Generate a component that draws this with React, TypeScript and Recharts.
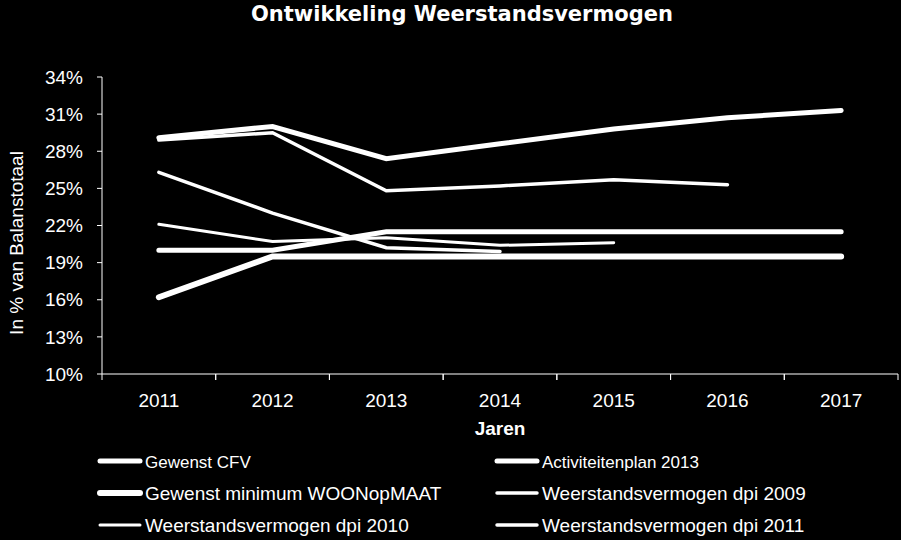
import { LineChart, Line, XAxis, YAxis } from "recharts";

const years = ["2011", "2012", "2013", "2014", "2015", "2016", "2017"];
const gewenstCFV = [20.0, 20.0, 21.5, 21.5, 21.5, 21.5, 21.5];
const activiteitenplan2013 = [29.1, 30.0, 27.4, 28.6, 29.8, 30.7, 31.3];
const gewenstMinimum = [16.2, 19.5, 19.5, 19.5, 19.5, 19.5, 19.5];
const dpi2009 = [26.3, 23.0, 20.2, 19.9];
const dpi2010 = [22.1, 20.7, 21.0, 20.4, 20.6];
const dpi2011 = [28.9, 29.5, 24.8, 25.2, 25.7, 25.3];
const yTicks = [10, 13, 16, 19, 22, 25, 28, 31, 34];

const series = [
  { key: "cfv", name: "Gewenst CFV", values: gewenstCFV, width: 5 },
  { key: "plan", name: "Activiteitenplan 2013", values: activiteitenplan2013, width: 5 },
  { key: "min", name: "Gewenst minimum WOONopMAAT", values: gewenstMinimum, width: 6 },
  { key: "d09", name: "Weerstandsvermogen dpi 2009", values: dpi2009, width: 3.5 },
  { key: "d10", name: "Weerstandsvermogen dpi 2010", values: dpi2010, width: 3 },
  { key: "d11", name: "Weerstandsvermogen dpi 2011", values: dpi2011, width: 3.5 },
];

const data = years.map((year, i) => {
  const row: { [k: string]: string | number | null } = { year };
  series.forEach(s => { row[s.key] = i < s.values.length ? s.values[i] : null; });
  return row;
});

const W = 901, H = 540;
const PLOT_LEFT = 102, PLOT_RIGHT = 898, PLOT_TOP = 77, PLOT_BOTTOM = 374;
const BAND = (PLOT_RIGHT - PLOT_LEFT) / years.length;
const FONT = "'Liberation Sans', Arial, sans-serif";

function XTick(props: any) {
  const { x, y, payload } = props;
  const axisY = y - 8;
  return (
    <g>
      <line x1={x - BAND / 2} x2={x - BAND / 2} y1={axisY} y2={axisY + 6} stroke="#fff" />
      <line x1={x + BAND / 2} x2={x + BAND / 2} y1={axisY} y2={axisY + 6} stroke="#fff" />
      <text x={x} y={axisY + 33} textAnchor="middle" fill="#fff" fontSize={19} fontFamily={FONT}>
        {payload.value}
      </text>
    </g>
  );
}

export default function App() {
  return (
    <div style={{ position: "fixed", left: 0, top: 0, width: W, height: H, background: "#000" }}>
      <LineChart
        width={W} height={H} data={data}
        margin={{ top: PLOT_TOP, right: W - PLOT_RIGHT, bottom: H - PLOT_BOTTOM - 30, left: 0 }}
      >
        <XAxis
          dataKey="year" height={30} padding={{ left: BAND / 2, right: BAND / 2 }}
          stroke="#fff" tickLine={false} tick={<XTick />} interval={0}
        />
        <YAxis
          width={PLOT_LEFT} domain={[10, 34]} ticks={yTicks} interval={0}
          stroke="#fff" tickSize={5} tickMargin={14}
          tickFormatter={(v: number) => `${v}%`}
          tick={{ fill: "#fff", fontSize: 19, fontFamily: FONT }}
        />
        {series.map(s => (
          <Line
            key={s.key} dataKey={s.key} name={s.name} stroke="#fff" strokeWidth={s.width}
            strokeLinecap="round" dot={false} isAnimationActive={false}
          />
        ))}
      </LineChart>
      <svg width={W} height={H} style={{ position: "absolute", left: 0, top: 0, pointerEvents: "none" }}>
        <text x={462} y={21} textAnchor="middle" fill="#fff" fontSize={21} fontWeight="bold"
          fontFamily="'DejaVu Sans', Verdana, sans-serif">
          Ontwikkeling Weerstandsvermogen
        </text>
        <text x={23} y={243} transform="rotate(-90 23 243)" textAnchor="middle" fill="#fff"
          fontSize={19} fontFamily={FONT}>
          In % van Balanstotaal
        </text>
        <text x={500} y={435} textAnchor="middle" fill="#fff" fontSize={19} fontWeight="bold" fontFamily={FONT}>
          Jaren
        </text>
        {series.map((s, i) => {
          const col = i % 2, row = Math.floor(i / 2);
          const lx = col === 0 ? 100 : 497;
          const ly = 461 + row * 32;
          return (
            <g key={s.key}>
              <line x1={lx} x2={lx + 40} y1={ly} y2={ly} stroke="#fff" strokeWidth={s.width} strokeLinecap="round" />
              <text x={lx + 45} y={ly + 7} fill="#fff" fontSize={row === 0 ? 17 : 19} fontFamily={FONT}>
                {s.name}
              </text>
            </g>
          );
        })}
      </svg>
    </div>
  );
}
